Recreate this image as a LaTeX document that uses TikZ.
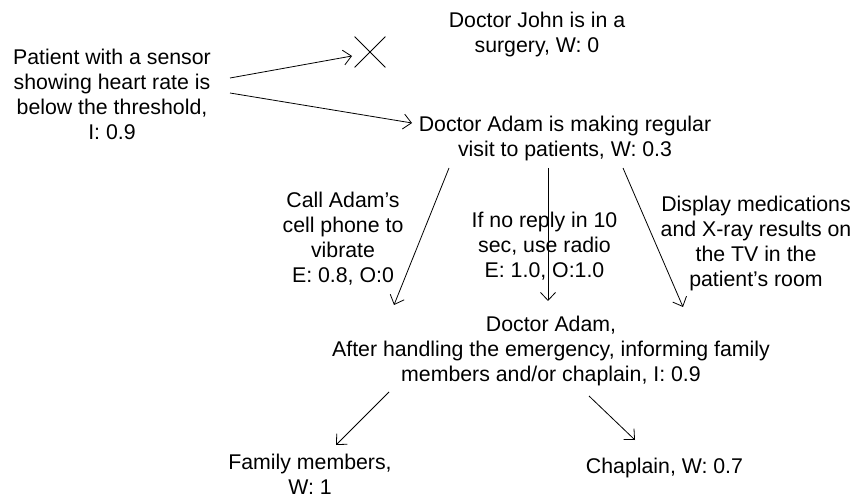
\documentclass[tikz,border=0pt]{standalone}
\usepackage{fontspec}
\setmainfont{Liberation Sans}
\usetikzlibrary{arrows.meta,calc,shapes.misc}

\begin{document}
\begin{tikzpicture}[x=1pt,y=-1pt,
    txt/.style={align=center,inner sep=0pt,anchor=north,
      font=\fontsize{21.3}{25}\selectfont},
    flow/.style={line width=0.8pt,-{Straight Barb[length=8pt,width=15pt,line width=0.8pt]}},
    reject/.style={cross out,draw,line width=0.8pt,minimum size=30pt,inner sep=0pt}]
  \useasboundingbox (0,0) rectangle (855,497);

  % situation and candidate doctors
  \node[txt] (patient) at (112,48.5) {Patient with a sensor\\showing heart rate is\\below the threshold,\\I: 0.9};
  \node[txt] (john) at (537,11.5) {Doctor John is in a\\surgery, W: 0};
  \node[reject] (none) at (370,52) {};
  \node[txt] (adam) at (565,116) {Doctor Adam is making regular\\visit to patients, W: 0.3};

  % ways of reaching Adam
  \node[txt] (call) at (343,192) {Call Adam’s\\cell phone to\\vibrate\\E: 0.8, O:0};
  \node[txt] (radio) at (544.5,211.5) {If no reply in 10\\sec, use radio\\E: 1.0, O:1.0};
  \node[txt] (tv) at (756,196) {Display medications\\and X-ray results on\\the TV in the\\patient’s room};

  % follow-up
  \node[txt] (after) at (551,316) {Doctor Adam,\\After handling the emergency, informing family\\members and/or chaplain, I: 0.9};
  \node[txt] (family) at (310,454) {Family members,\\W: 1};
  \node[txt] (chaplain) at (664.5,458) {Chaplain, W: 0.7};

  % connectors
  \draw[flow] ($(patient.north)+(118,29.5)$) -- ($(none.center)+(-18,4)$);
  \draw[flow] ($(patient.north)+(118,44.5)$) -- ($(adam.north)+(-153,7)$);
  \draw[flow] ($(adam.north)+(-116,52)$) -- ($(after.north)+(-157,-11)$);
  \draw[flow] ($(adam.north)+(-17,52)$) -- ($(after.north)+(-3,-15)$);
  \draw[flow] ($(adam.north)+(58,52)$) -- ($(after.north)+(132,-9)$);
  \draw[flow] ($(after.north)+(-162,76)$) -- ($(family.north)+(26,-9)$);
  \draw[flow] ($(after.north)+(38,80)$) -- ($(chaplain.north)+(-29.5,-18)$);
\end{tikzpicture}
\end{document}
